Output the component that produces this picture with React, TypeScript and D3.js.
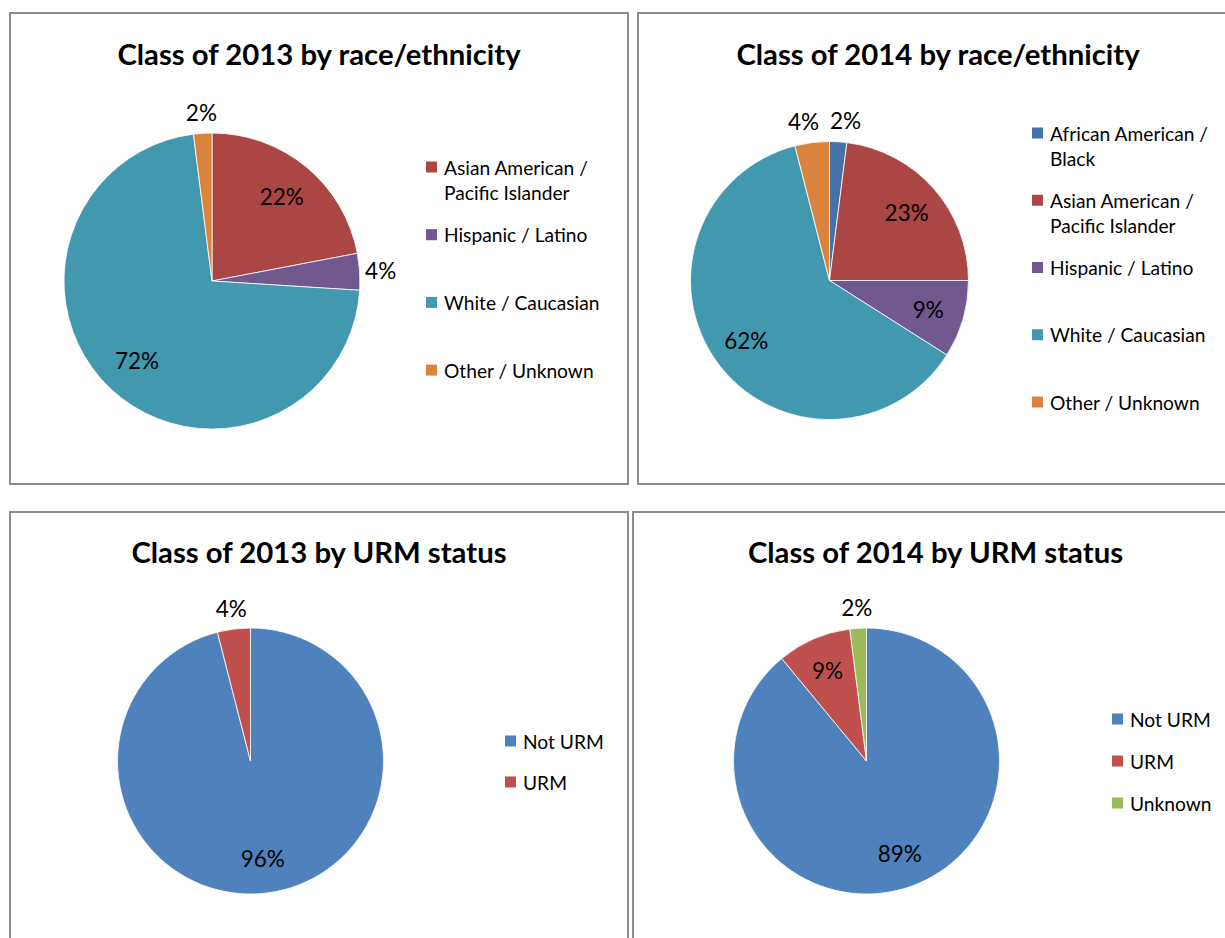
import React from 'react';
import * as d3 from 'd3';

// ---- data ----
const raceLegend2013 = [
  ['Asian American /', 'Pacific Islander'],
  ['Hispanic / Latino'],
  ['White / Caucasian'],
  ['Other / Unknown'],
];
const raceValues2013 = [22, 4, 72, 2];

const raceLegend2014 = [
  ['African American /', 'Black'],
  ['Asian American /', 'Pacific Islander'],
  ['Hispanic / Latino'],
  ['White / Caucasian'],
  ['Other / Unknown'],
];
const raceValues2014 = [2, 23, 9, 62, 4];

const urmLegend2013 = [['Not URM'], ['URM']];
const urmValues2013 = [96, 4];

const urmLegend2014 = [['Not URM'], ['URM'], ['Unknown']];
const urmValues2014 = [89, 9, 2];

const raceColors2013 = ['#AA4644', '#71588F', '#4198AF', '#DB843D'];
const raceColors2014 = ['#4672A8', '#AA4644', '#71588F', '#4198AF', '#DB843D'];
const urmColors = ['#4F81BD', '#C0504D', '#9BBB59'];

const FONT = 'Lato, Calibri, "Open Sans", sans-serif';

type PanelProps = {
  title: string;
  values: number[];
  legend: string[][];
  colors: string[];
  box: [number, number, number, number];
  titleY: number;
  cx: number;
  cy: number;
  r: number;
  legendX: number;
  legendY: number;
  legendStep: number;
};

function PiePanel(p: PanelProps) {
  const pie = d3.pie<number>().sort(null).value(d => d);
  const arcs = pie(p.values);
  const arc = d3.arc<d3.PieArcDatum<number>>().innerRadius(0).outerRadius(p.r);
  const inside = d3.arc<d3.PieArcDatum<number>>().innerRadius(p.r * 0.74).outerRadius(p.r * 0.74);
  const outside = d3.arc<d3.PieArcDatum<number>>().innerRadius(p.r + 21).outerRadius(p.r + 21);
  const [bx, by, bw, bh] = p.box;
  const titleCx = bx + bw / 2;

  // label positions; small slices go outside, pushed apart if they collide
  const labels = arcs.map(a => {
    const out = a.data < 5;
    const [x, y] = out ? outside.centroid(a) : inside.centroid(a);
    return { x, y, out, text: `${Math.round(a.data)}%` };
  });
  const outs = labels.filter(l => l.out).sort((a, b) => a.x - b.x);
  for (let i = 1; i < outs.length; i++) {
    const gap = outs[i].x - outs[i - 1].x;
    if (gap < 42 && Math.abs(outs[i].y - outs[i - 1].y) < 20) {
      const shift = (42 - gap) / 2;
      outs[i - 1].x -= shift;
      outs[i].x += shift;
    }
  }

  return (
    <g>
      <rect x={bx} y={by} width={bw} height={bh} fill="#fff" stroke="#8c8c8c" strokeWidth={2} />
      <text x={titleCx} y={p.titleY} textAnchor="middle" dominantBaseline="central"
        fontFamily={FONT} fontWeight="bold" fontSize={29.3} fill="#000">{p.title}</text>
      <g transform={`translate(${p.cx},${p.cy})`}>
        {arcs.map((a, i) => (
          <path key={i} d={arc(a) || ''} fill={p.colors[i]} stroke="#fff" strokeWidth={0.8} />
        ))}
        {labels.map((l, i) => (
          <text key={'l' + i} x={l.x} y={l.y} textAnchor="middle" dominantBaseline="central"
            fontFamily={FONT} fontSize={22.5} fill="#000">{l.text}</text>
        ))}
      </g>
      {p.legend.map((lines, i) => {
        const y = p.legendY + i * p.legendStep;
        return (
          <g key={'g' + i}>
            <rect x={p.legendX} y={y - 5.5} width={11} height={11} fill={p.colors[i]} />
            {lines.map((t, j) => (
              <text key={j} x={p.legendX + 18} y={y + j * 25.5} dominantBaseline="central"
                fontFamily={FONT} fontSize={19.2} fill="#000">{t}</text>
            ))}
          </g>
        );
      })}
    </g>
  );
}

export default function App() {
  return (
    <svg width={1225} height={938} style={{ position: 'absolute', left: 0, top: 0, background: '#fff' }}>
      <PiePanel title="Class of 2013 by race/ethnicity" values={raceValues2013} legend={raceLegend2013}
        colors={raceColors2013} box={[10, 13, 618, 471]} titleY={53.5} cx={212} cy={281} r={148}
        legendX={426} legendY={167} legendStep={67.7} />
      <PiePanel title="Class of 2014 by race/ethnicity" values={raceValues2014} legend={raceLegend2014}
        colors={raceColors2014} box={[638, 13, 600, 471]} titleY={53.5} cx={829.5} cy={280.5} r={139}
        legendX={1032} legendY={133} legendStep={67.25} />
      <PiePanel title="Class of 2013 by URM status" values={urmValues2013} legend={urmLegend2013}
        colors={urmColors} box={[10, 512, 618, 440]} titleY={551.5} cx={250.5} cy={761} r={133}
        legendX={505} legendY={741} legendStep={41} />
      <PiePanel title="Class of 2014 by URM status" values={urmValues2014} legend={urmLegend2014}
        colors={urmColors} box={[633, 512, 605, 440]} titleY={551.5} cx={866.5} cy={761} r={133}
        legendX={1112} legendY={719} legendStep={42} />
    </svg>
  );
}
